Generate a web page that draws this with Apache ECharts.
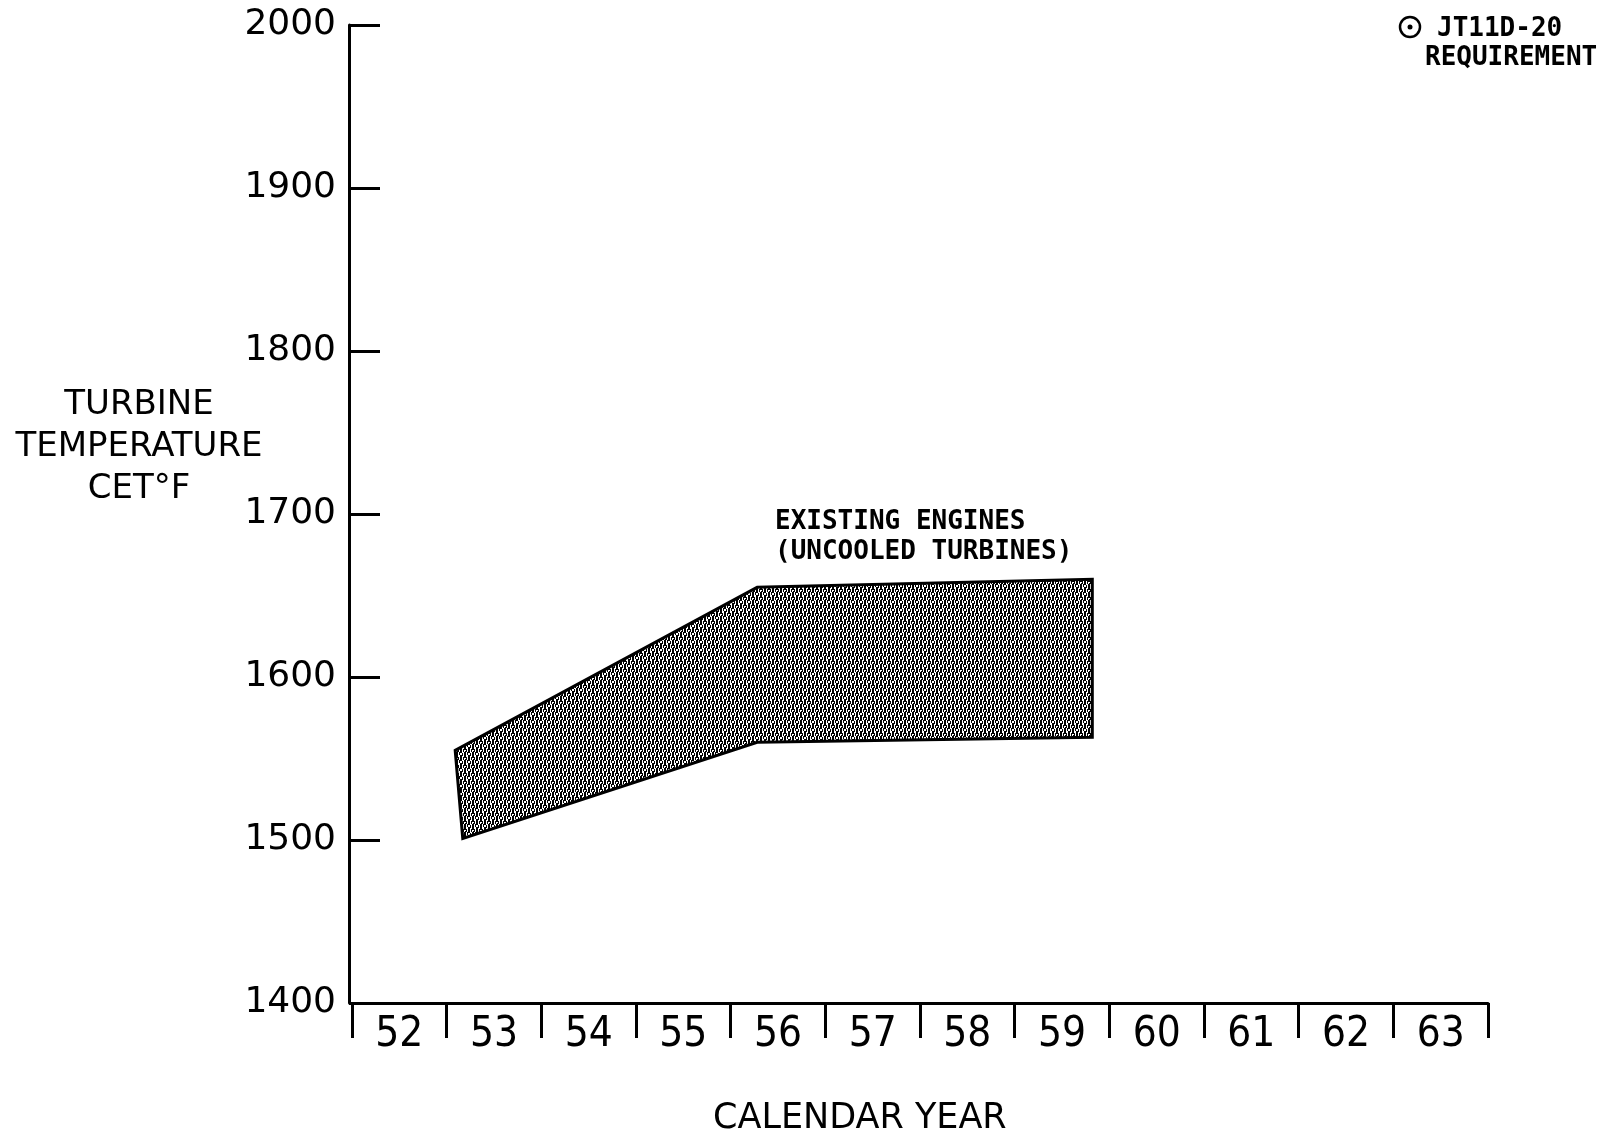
<!DOCTYPE html>
<html>
<head>
<meta charset="utf-8">
<title>Turbine temperature vs calendar year</title>
<script src="https://cdn.jsdelivr.net/npm/echarts@6/dist/echarts.min.js"></script>
<style>
  html, body { margin: 0; padding: 0; background: #fff; }
  #main { width: 1604px; height: 1135px; }
</style>
</head>
<body>
<div id="main"></div>
<script>
// calendar years (19xx) on the x axis
const years = ["52", "53", "54", "55", "56", "57", "58", "59", "60", "61", "62", "63"];
// y axis range, deg F
const tempMin = 1400;
const tempMax = 2000;
const tempStep = 100;

// existing engines band (uncooled turbines), year as continuous value
const upperYear = [53.09, 56.28, 59.82];
const upperTemp = [1555, 1655, 1660];
const lowerYear = [53.17, 56.28, 59.82];
const lowerTemp = [1501, 1560, 1563];

// stipple fill for the band
let makeStipple = () => {
  let c = document.createElement("canvas");
  c.width = 8;
  c.height = 8;
  let ctx = c.getContext("2d");
  ctx.fillStyle = "#fff";
  ctx.fillRect(0, 0, 8, 8);
  ctx.fillStyle = "#000";
  ctx.fillRect(0, 0, 2, 6);
  ctx.fillRect(4, 3, 2, 5);
  ctx.fillRect(4, 0, 2, 1);
  ctx.fillRect(2, 5, 1, 3);
  ctx.fillRect(6, 1, 1, 3);
  ctx.fillRect(7, 5, 1, 3);
  ctx.fillRect(3, 0, 1, 3);
  ctx.fillRect(1, 7, 1, 1);
  return c;
};

const bandPoints = upperYear
  .map((x, i) => [x, upperTemp[i]])
  .concat(lowerYear.map((x, i) => [x, lowerTemp[i]]).reverse());

let chart = echarts.init(document.getElementById("main"));
let stipple = makeStipple();

let option = {
  backgroundColor: "#fff",
  animation: false,
  grid: {
    left: 352,
    right: 116,
    top: 25,
    bottom: 132,
  },
  xAxis: [
    {
      type: "category",
      data: years,
      boundaryGap: true,
      axisLine: { show: true, lineStyle: { color: "#000", width: 3 } },
      axisTick: {
        show: true,
        interval: 0,
        length: 35,
        lineStyle: { color: "#000", width: 3 },
      },
      axisLabel: {
        interval: 0,
        margin: 11,
        color: "#000",
        fontSize: 42,
        fontFamily: "'Liberation Sans Narrow', 'DejaVu Sans Condensed', 'DejaVu Sans'",
      },
      splitLine: { show: false },
    },
    {
      // hidden value axis carrying the band coordinates
      type: "value",
      min: 52,
      max: 64,
      show: false,
    },
  ],
  yAxis: {
    type: "value",
    min: tempMin,
    max: tempMax,
    interval: tempStep,
    offset: 3,
    axisLine: { show: true, lineStyle: { color: "#000", width: 3 } },
    axisTick: {
      show: true,
      inside: true,
      length: 31,
      lineStyle: { color: "#000", width: 3 },
    },
    axisLabel: {
      margin: 13,
      color: "#000",
      fontSize: 36,
      fontFamily: "'DejaVu Sans'",
      formatter: (v) => String(v),
    },
    splitLine: { show: false },
  },
  graphic: [
    {
      type: "text",
      x: 139,
      y: 384,
      style: {
        text: "TURBINE\nTEMPERATURE\nCET°F",
        align: "center",
        verticalAlign: "top",
        fill: "#000",
        font: "34px 'DejaVu Sans'",
        lineHeight: 42,
      },
    },
    {
      type: "text",
      left: 713,
      top: 1101,
      style: {
        text: "CALENDAR YEAR",
        fill: "#000",
        font: "35px 'DejaVu Sans'",
      },
    },
    {
      type: "text",
      left: 775,
      top: 507,
      style: {
        text: "EXISTING ENGINES\n(UNCOOLED TURBINES)",
        fill: "#000",
        font: "bold 26px 'DejaVu Sans Mono'",
        lineHeight: 30,
      },
    },
    {
      type: "circle",
      shape: { cx: 1410, cy: 27, r: 10 },
      style: { fill: "none", stroke: "#000", lineWidth: 2.5 },
    },
    {
      type: "circle",
      shape: { cx: 1410, cy: 27, r: 2.5 },
      style: { fill: "#000" },
    },
    {
      type: "text",
      left: 1437,
      top: 16,
      style: {
        text: "JT11D-20",
        fill: "#000",
        font: "bold 26px 'DejaVu Sans Mono'",
      },
    },
    {
      type: "text",
      left: 1425,
      top: 45,
      style: {
        text: "REQUIREMENT",
        fill: "#000",
        font: "bold 26px 'DejaVu Sans Mono'",
      },
    },
  ],
  series: [
    {
      name: "Existing engines",
      type: "custom",
      xAxisIndex: 1,
      yAxisIndex: 0,
      data: bandPoints,
      renderItem: (params, api) => {
        if (params.dataIndex !== 0) return null;
        return {
          type: "polygon",
          shape: { points: bandPoints.map((p) => api.coord(p)) },
          style: {
            fill: { image: stipple, repeat: "repeat" },
            stroke: "#000",
            lineWidth: 3,
          },
        };
      },
    },
  ],
};
chart.setOption(option);
</script>
</body>
</html>
